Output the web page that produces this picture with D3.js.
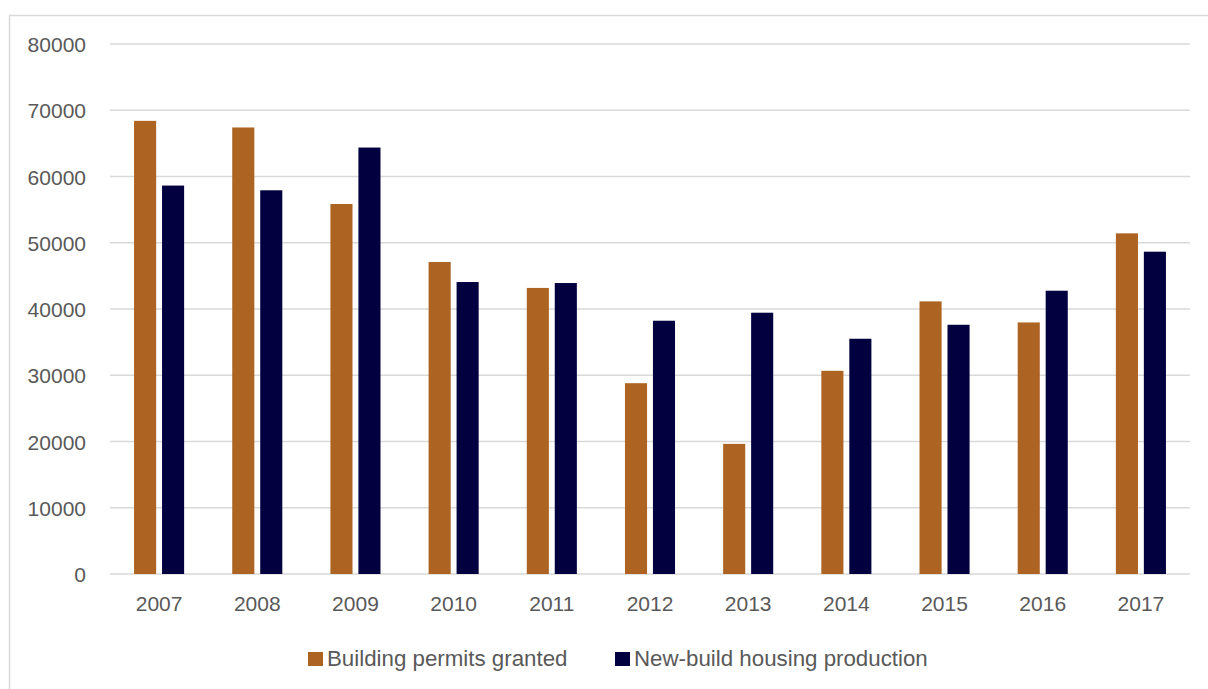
<!DOCTYPE html>
<html>
<head>
<meta charset="utf-8">
<script src="https://cdn.jsdelivr.net/npm/d3@7"></script>
<style>
  body { margin: 0; background: #fff; }
  svg { display: block; font-family: "Liberation Sans", Arial, sans-serif; }
  .axis text { fill: #595959; font-size: 21px; }
  .axis path, .axis line { display: none; }
  .grid line { stroke: #d9d9d9; stroke-width: 1.5; }
  .legend text { fill: #595959; font-size: 22.3px; }
</style>
</head>
<body>
<svg width="1208" height="689"></svg>
<script>
let years = ["2007", "2008", "2009", "2010", "2011", "2012", "2013", "2014", "2015", "2016", "2017"];
let permits = [68400, 67400, 55850, 47100, 43180, 28800, 19640, 30670, 41150, 37970, 51420];
let production = [58630, 57920, 64370, 44070, 43920, 38230, 39440, 35510, 37620, 42760, 48650];
let seriesNames = ["Building permits granted", "New-build housing production"];
let seriesColors = ["#ad6322", "#03003f"];
let yTicks = [0, 10000, 20000, 30000, 40000, 50000, 60000, 70000, 80000];

let svg = d3.select("svg"),
    margin = {top: 44, right: 18, bottom: 115, left: 110},
    width = +svg.attr("width") - margin.left - margin.right,
    height = +svg.attr("height") - margin.top - margin.bottom;

// chart frame (right and bottom edges fall outside the picture)
svg.append("rect")
    .attr("x", 9.5)
    .attr("y", 15.5)
    .attr("width", 1240)
    .attr("height", 700)
    .attr("fill", "none")
    .attr("stroke", "#d9d9d9")
    .attr("stroke-width", 1.5);

let x = d3.scaleBand().domain(years).range([0, width]).paddingInner(0).paddingOuter(0);
let y = d3.scaleLinear().domain([0, 80000]).range([height, 0]);

let g = svg.append("g")
    .attr("transform", "translate(" + margin.left + "," + margin.top + ")");

g.append("g")
    .attr("class", "grid")
    .selectAll("line")
    .data(yTicks)
    .enter().append("line")
    .attr("x1", 0)
    .attr("x2", width)
    .attr("y1", d => y(d))
    .attr("y2", d => y(d));

let yAxis = g.append("g")
    .attr("class", "axis axis--y")
    .attr("transform", "translate(-24,0)")
    .call(d3.axisLeft(y).tickValues(yTicks).tickFormat(d3.format("d")).tickSize(0).tickPadding(0));
yAxis.selectAll("text").attr("dy", "0.36em");

let xAxis = g.append("g")
    .attr("class", "axis axis--x")
    .attr("transform", "translate(0," + height + ")")
    .call(d3.axisBottom(x).tickSize(0).tickPadding(22));

// bars: 22px wide with a 6px gap inside each 98px category band
let barW = x.bandwidth() * 0.225,
    gap = x.bandwidth() * 0.06,
    offset = (x.bandwidth() - 2 * barW - gap) / 2;

let series = [permits, production];
series.forEach(function (vals, i) {
    g.append("g")
        .selectAll("rect")
        .data(vals)
        .enter().append("rect")
        .attr("x", (d, j) => x(years[j]) + offset + i * (barW + gap))
        .attr("y", d => y(d))
        .attr("width", barW)
        .attr("height", d => height - y(d))
        .attr("fill", seriesColors[i]);
});

// legend
let legendX = [308, 615];
let legend = svg.append("g").attr("class", "legend");
seriesNames.forEach(function (name, i) {
    legend.append("rect")
        .attr("x", legendX[i])
        .attr("y", 652)
        .attr("width", 15)
        .attr("height", 14)
        .attr("fill", seriesColors[i]);
    legend.append("text")
        .attr("x", legendX[i] + 19)
        .attr("y", 666)
        .text(name);
});
</script>
</body>
</html>
